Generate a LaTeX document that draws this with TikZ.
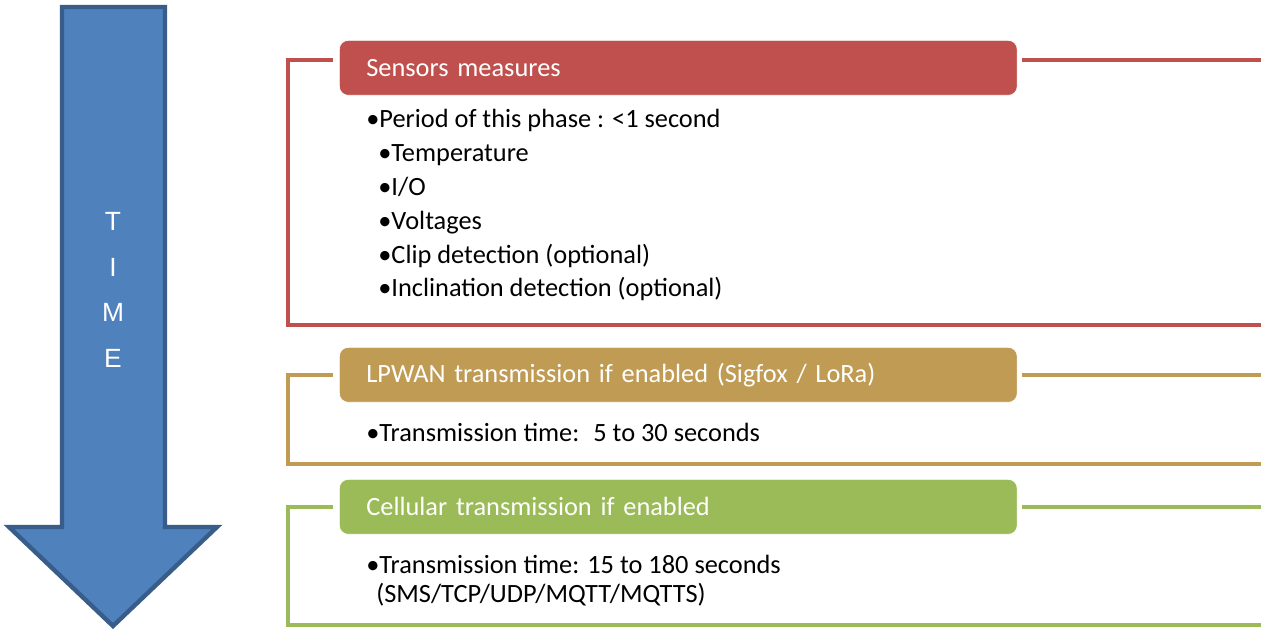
\documentclass[tikz,border=0pt]{standalone}
\usepackage{fontspec}
\setmainfont{Carlito}
\newfontfamily\arrowfont{Liberation Sans}
\usetikzlibrary{positioning}

\definecolor{sensred}{HTML}{C0504D}
\definecolor{lpwgold}{HTML}{C09B53}
\definecolor{cellgreen}{HTML}{9BBB59}
\definecolor{timeblue}{HTML}{4F81BD}
\definecolor{timeedge}{HTML}{385D8A}

\begin{document}
\begin{tikzpicture}[x=0.02cm, y=-0.02cm, line join=miter,
    header/.style={anchor=north west, rounded corners=5pt, draw=white, thin,
        text=white, minimum height=1.1cm, text width=12.48cm, inner xsep=0.54cm,
        align=left, font=\fontsize{15}{18}\selectfont},
    bracket/.style={line width=2.5pt},
    items/.style={anchor=base west, align=left, inner sep=0pt,
        font=\fontsize{15}{19.35}\selectfont}]

    \useasboundingbox (0,0) rectangle (1261,631);

    % Flecha del tiempo
    \draw[timeedge, fill=timeblue, line width=2.5pt]
        (62,7) -- (165,7) -- (165,527) -- (217,527) -- (113,626)
        -- (9,527) -- (62,527) -- cycle;
    \node[text=white, align=center, font=\arrowfont\fontsize{15}{26}\selectfont]
        (time) at (113,290) {T\\I\\M\\E};

    % Fase 1: medidas de los sensores
    \coordinate (sensA) at (333,60);
    \coordinate (sensB) at (288,60);
    \coordinate (sensC) at (288,325);
    \coordinate (sensD) at (1261,325);
    \coordinate (sensE) at (1022,60);
    \coordinate (sensF) at (1261,60);
    \draw[bracket, sensred] (sensA) -- (sensB) -- (sensC) -- (sensD);
    \draw[bracket, sensred] (sensE) -- (sensF);
    \node[header, fill=sensred] (sens) at (339,40) {Sensors measures};
    \node[items] (sensitems) at (366,297)
        {•Period of this phase : <1 second\\
         \hspace{0.24cm}•Temperature\\
         \hspace{0.24cm}•I/O\\
         \hspace{0.24cm}•Voltages\\
         \hspace{0.24cm}•Clip detection (optional)\\
         \hspace{0.24cm}•Inclination detection (optional)};

    % Fase 2: transmision LPWAN
    \coordinate (lpwA) at (333,375);
    \coordinate (lpwB) at (288,375);
    \coordinate (lpwC) at (288,464);
    \coordinate (lpwD) at (1261,464);
    \coordinate (lpwE) at (1022,375);
    \coordinate (lpwF) at (1261,375);
    \draw[bracket, lpwgold] (lpwA) -- (lpwB) -- (lpwC) -- (lpwD);
    \draw[bracket, lpwgold] (lpwE) -- (lpwF);
    \node[header, fill=lpwgold] (lpw) at (339,347)
        {LPWAN transmission if enabled (Sigfox / LoRa)};
    \node[items] (lpwitems) at (366,441) {•Transmission time:~ 5 to 30 seconds};

    % Fase 3: transmision celular
    \coordinate (cellA) at (333,507);
    \coordinate (cellB) at (288,507);
    \coordinate (cellC) at (288,625);
    \coordinate (cellD) at (1261,625);
    \coordinate (cellE) at (1022,507);
    \coordinate (cellF) at (1261,507);
    \draw[bracket, cellgreen] (cellA) -- (cellB) -- (cellC) -- (cellD);
    \draw[bracket, cellgreen] (cellE) -- (cellF);
    \node[header, fill=cellgreen] (cell) at (339,479) {Cellular transmission if enabled};
    \node[items, font=\fontsize{15}{16.5}\selectfont] (cellitems) at (366,602)
        {•Transmission time: 15 to 180 seconds\\
         \hspace{0.2cm}(SMS/TCP/UDP/MQTT/MQTTS)};

\end{tikzpicture}
\end{document}
